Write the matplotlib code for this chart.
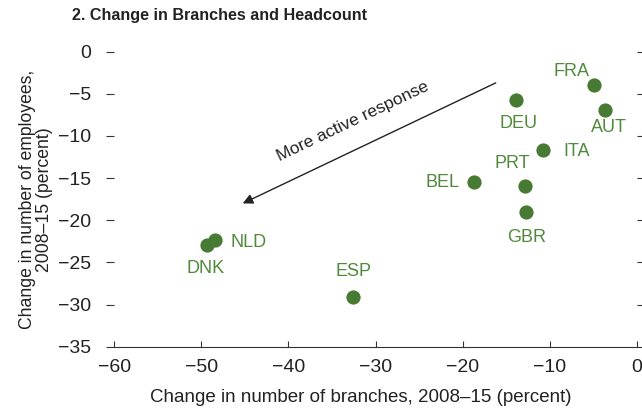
import matplotlib
matplotlib.use("Agg")
import matplotlib.pyplot as plt

countries = ["FRA", "AUT", "DEU", "ITA", "PRT", "BEL", "GBR", "NLD", "DNK", "ESP"]
branches = [-4.9, -3.6, -13.9, -10.8, -12.8, -18.7, -12.75, -48.4, -49.3, -32.55]
employees = [-4.0, -6.9, -5.7, -11.7, -15.9, -15.5, -19.0, -22.3, -22.9, -29.1]
label_offsets = [(-23, 14), (3, -18), (3, -24), (34, -1), (-13, 22),
                 (-31, 0), (1, -26), (33, -3), (-2, -24), (0, 25)]

plt.rcParams["font.family"] = ["Liberation Sans Narrow", "Liberation Sans", "DejaVu Sans"]
dot_color = "#477a33"
txt_color = "#4f8a3b"
ink = "#222222"

fig = plt.figure(figsize=(6.42, 4.15), dpi=100)
ax = fig.add_axes([0.178, 0.1646, 0.8139, 0.7108])

ax.scatter(branches, employees, s=105, color=dot_color, zorder=3, linewidths=0)
for c, x, y, off in zip(countries, branches, employees, label_offsets):
    ax.annotate(c, (x, y), xytext=off, textcoords="offset pixels",
                ha="center", va="center", color=txt_color, fontsize=13)

# arrow + note
ax.annotate("", xy=(-45.25, -18.0), xytext=(-16.2, -3.7),
            arrowprops=dict(arrowstyle="-|>", color=ink, lw=1,
                            mutation_scale=15, shrinkA=0, shrinkB=0))
ax.text(-32.6, -8.3, "More active response", rotation=25.5, rotation_mode="anchor",
        ha="center", va="center", fontsize=12.5, color=ink)

ax.set_xlim(-60, 0)
ax.set_ylim(-35, 0)
xt = list(range(-60, 1, 10))
yt = list(range(-35, 1, 5))
ax.set_xticks(xt)
ax.set_yticks(yt)
ax.set_xticklabels(["\u2212%d" % -v if v < 0 else str(v) for v in xt])
ax.set_yticklabels(["\u2212%d" % -v if v < 0 else str(v) for v in yt])

for s in ["top", "left", "right"]:
    ax.spines[s].set_visible(False)
ax.spines["bottom"].set_color("#333333")
ax.tick_params(axis="x", direction="in", length=4, color="#333333", labelsize=14,
               pad=9, labelcolor=ink)
ax.tick_params(axis="y", direction="out", length=5.5, color="#333333", labelsize=14,
               pad=11, labelcolor=ink, right=True)

ax.set_xlabel("Change in number of branches, 2008\u201315 (percent)", fontsize=13.5,
              color=ink)
ax.xaxis.set_label_coords(0.472, -0.142)
ax.set_ylabel("Change in number of employees,\n2008\u201315 (percent)", fontsize=12.7,
              color=ink, labelpad=4, linespacing=1.0)
fig.text(0.112, 0.963, "2. Change in Branches and Headcount", fontsize=11.6,
         fontweight="bold", ha="left", va="center", color=ink)

fig.savefig("out.png", dpi=100)
